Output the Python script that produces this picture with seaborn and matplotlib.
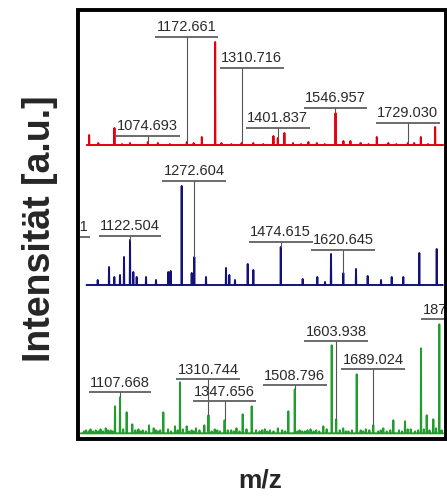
import pandas as pd
import matplotlib
matplotlib.use("Agg")
import matplotlib.pyplot as plt
import seaborn as sns

sns.set_theme(style="white")
plt.rcParams["font.family"] = ["Liberation Sans", "DejaVu Sans"]

# ---- spectrum 1 (red) : peak m/z and intensity (a.u.)
red_mz = [927.0, 990.7, 1074.7, 1172.7, 1210.6, 1244.1, 1310.7, 1390.8, 1401.8,
          1418.4, 1478.8, 1547.0, 1566.9, 1584.5, 1650.9, 1729.0, 1761.7, 1797.7]
red_int = [10, 17, 3, 3, 8, 103, 2, 9, 7, 12, 3, 32, 4, 4, 8, 2, 8, 18]
red_noise_mz = [950, 1010, 1030, 1100, 1130, 1190, 1260, 1285, 1340, 1365, 1440,
                1460, 1500, 1520, 1610, 1630, 1680, 1700, 1745, 1780]
red_noise_int = [2, 1, 2, 2, 1, 2, 2, 1, 2, 1, 2, 1, 2, 1, 2, 1, 2, 1, 2, 1]
red_range = [921, 1818]
red_xlim = [904, 1820]
red_labels = ["1074.693", "1172.661", "1310.716", "1401.837", "1546.957", "1729.030"]
red_label_mz = [1074.693, 1172.661, 1310.716, 1401.837, 1546.957, 1729.030]
red_text_mz = [1074.693, 1172.661, 1336.0, 1401.837, 1546.957, 1729.030]
red_label_y = [9, 108, 77, 17, 37, 22]
red_label_peak = [3, 3, 2, 7, 32, 2]

# ---- spectrum 2 (blue)
blue_mz = [1047.1, 1073.5, 1085.8, 1099.1, 1108.5, 1122.5, 1130.2, 1138.1, 1159.9,
           1183.2, 1211.9, 1217.5, 1243.2, 1266.6, 1272.6, 1300.0, 1346.7, 1354.4,
           1367.7, 1397.4, 1410.5, 1474.6, 1525.8, 1559.9, 1577.9, 1591.9, 1620.6,
           1650.3, 1677.6, 1708.7, 1733.7, 1760.7, 1798.1, 1838.8]
blue_int = [5, 18, 8, 10, 28, 45, 13, 8, 8, 5, 13, 14, 99, 12, 28, 8, 17, 10,
            5, 21, 15, 38, 6, 8, 3, 31, 12, 16, 9, 5, 8, 8, 32, 36]
blue_range = [1021, 1853]
blue_xlim = [1005.7, 1855.8]
blue_labels = ["949.751", "1122.504", "1272.604", "1474.615", "1620.645"]
blue_label_mz = [949.751, 1122.504, 1272.604, 1474.615, 1620.645]
blue_text_mz = [963.0, 1122.504, 1272.604, 1474.615, 1620.645]
blue_label_y = [48, 49, 104, 43, 35]
blue_label_peak = [0, 45, 28, 38, 12]

# ---- spectrum 3 (green)
green_mz = [1096.2, 1107.7, 1123.0, 1135.9, 1174.2, 1207.1, 1233.9, 1245.4, 1260.8,
            1301.2, 1310.7, 1347.7, 1389.3, 1410.0, 1494.0, 1508.8, 1574.3, 1593.6,
            1603.9, 1651.0, 1689.0, 1735.0, 1761.8, 1798.5, 1811.6, 1826.8, 1840.5]
green_int = [27, 36, 21, 9, 8, 21, 7, 51, 7, 8, 18, 13, 19, 27, 22, 44, 7, 88,
             14, 59, 8, 13, 12, 85, 18, 14, 109]
green_noise_mz = [1025, 1030, 1036, 1040, 1046, 1052, 1058, 1063, 1069, 1075, 1080,
                  1086, 1091, 1115, 1143, 1150, 1155, 1160, 1167, 1185, 1190, 1195,
                  1200, 1218, 1225, 1240, 1252, 1266, 1272, 1277, 1282, 1290, 1318,
                  1325, 1331, 1337, 1355, 1363, 1369, 1375, 1382, 1398, 1420, 1428,
                  1434, 1440, 1446, 1452, 1460, 1470, 1480, 1487, 1515, 1520, 1526,
                  1532, 1538, 1545, 1552, 1558, 1565, 1582, 1612, 1620, 1626, 1632,
                  1640, 1660, 1666, 1672, 1680, 1700, 1706, 1712, 1720, 1728, 1748,
                  1755, 1768, 1775, 1785, 1792, 1805, 1818, 1833, 1846]
green_noise_int = [2, 3, 2, 4, 2, 3, 2, 4, 2, 5, 3, 3, 2, 4, 3, 4, 2, 3, 2, 5, 3,
                   2, 3, 4, 2, 3, 4, 2, 3, 2, 5, 3, 2, 4, 3, 2, 3, 3, 2, 5, 2, 4,
                   3, 2, 3, 4, 2, 3, 2, 5, 3, 2, 2, 3, 2, 2, 3, 4, 2, 3, 2, 4, 3,
                   5, 2, 2, 3, 3, 2, 4, 3, 2, 3, 5, 2, 3, 3, 2, 4, 4, 2, 3, 4, 3,
                   5, 3]
green_range = [1018, 1849]
green_xlim = [1015.9, 1851.3]
green_labels = ["1107.668", "1310.744", "1347.656", "1508.796", "1603.938",
                "1689.024", "1872.015"]
green_label_mz = [1107.668, 1310.744, 1347.656, 1508.796, 1603.938, 1689.024, 1872.015]
green_text_mz = [1107.668, 1310.744, 1347.656, 1508.796, 1603.938, 1689.024, 1872.015]
green_label_y = [41, 54, 32, 48, 92, 64, 114]
green_label_peak = [36, 18, 13, 44, 14, 8, 0]


def profile(mz, inten, rng, w=0.6):
    xs, ys = [rng[0]], [0]
    for m, h in sorted(zip(mz, inten)):
        xs += [m - w, m, m + w]
        ys += [0, h, 0]
    xs.append(rng[1])
    ys.append(0)
    return pd.DataFrame({"mz": xs, "intensity": ys})


W, H = 447, 496
fig = plt.figure(figsize=(W / 100, H / 100), dpi=100)


def px_axes(x0, y0, x1, y1):
    return fig.add_axes([x0 / W, 1 - y1 / H, (x1 - x0) / W, (y1 - y0) / H])


panels = [
    (px_axes(80, 11, 444, 147), (-2, 134), "#e3000f",
     red_mz + red_noise_mz, red_int + red_noise_int, red_range, red_xlim,
     red_labels, red_label_mz, red_text_mz, red_label_y, red_label_peak),
    (px_axes(80, 147, 444, 287), (-2, 138), "#12127a",
     blue_mz, blue_int, blue_range, blue_xlim,
     blue_labels, blue_label_mz, blue_text_mz, blue_label_y, blue_label_peak),
    (px_axes(80, 287, 444, 436), (-2.7, 146.3), "#1f9e2c",
     green_mz + green_noise_mz, green_int + green_noise_int, green_range, green_xlim,
     green_labels, green_label_mz, green_text_mz, green_label_y, green_label_peak),
]

texts = []
for (ax, ylim, color, mz, inten, rng, xlim,
     labels, lab_mz, txt_mz, lab_y, lab_pk) in panels:
    df = profile(mz, inten, rng)
    sns.lineplot(data=df, x="mz", y="intensity", ax=ax, color=color, lw=1.4,
                 sort=False, estimator=None)
    ax.set_xlim(*xlim)
    ax.set_ylim(*ylim)
    ax.axis("off")
    for lab, m, tm, y, pk in zip(labels, lab_mz, txt_mz, lab_y, lab_pk):
        t = ax.annotate(lab, (tm, y), xytext=(0, 2.0), textcoords="offset points",
                        ha="center", va="bottom", fontsize=10.5, color="#2a2a2a",
                        annotation_clip=False, clip_on=True)
        ax.plot([m, m], [y, pk], color="#555555", lw=0.8, clip_on=True)
        texts.append((ax, t, y))

fig.canvas.draw()
for ax, t, y in texts:
    bb = t.get_window_extent()
    inv = ax.transData.inverted()
    x0 = inv.transform((bb.x0 - 1.5, 0))[0]
    x1 = inv.transform((bb.x1 + 1.5, 0))[0]
    ax.plot([x0, x1], [y, y], color="#606060", lw=1.3, clip_on=True,
            solid_capstyle="butt")

# outer frame
fig.add_artist(plt.Rectangle((78 / W, 1 - 439 / H), (445.5 - 78) / W, (439 - 9.5) / H,
                             fill=False, lw=2.8, ec="black",
                             transform=fig.transFigure))

fig.text(40 / W, 1 - 229 / H, "Intensität [a.u.]", rotation=90, ha="center",
         va="center", fontsize=27, fontweight="bold")
fig.text(260 / W, 1 - 480 / H, "m/z", ha="center", va="center", fontsize=19,
         fontweight="bold")

fig.savefig("out.png", dpi=100)
